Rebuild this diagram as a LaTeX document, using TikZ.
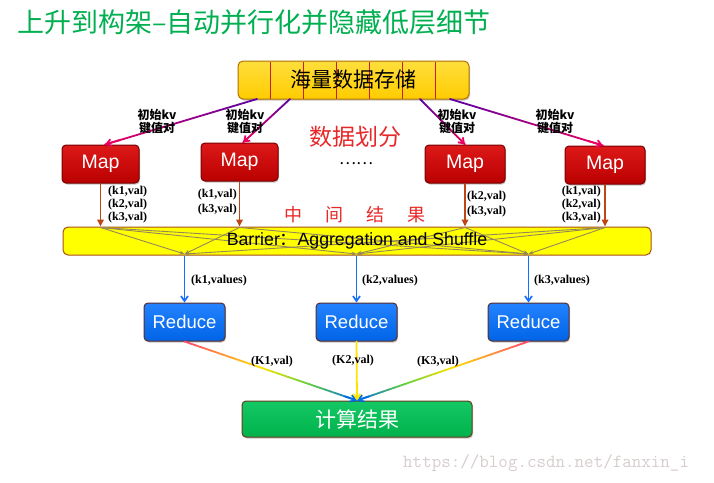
\documentclass[tikz,border=0pt]{standalone}
\usepackage{fontspec}
\newfontfamily\cjk{Noto Sans CJK SC}
\newfontfamily\lsans{Liberation Sans}
\newfontfamily\lserif{Liberation Serif}
\usetikzlibrary{arrows.meta,calc,shadows}
\definecolor{titlegreen}{RGB}{0,176,80}
\definecolor{storefill}{RGB}{255,204,0}
\definecolor{storetop}{RGB}{255,222,60}
\definecolor{storeborder}{RGB}{175,115,0}
\definecolor{cellred}{RGB}{205,30,30}
\definecolor{maptop}{RGB}{222,25,25}
\definecolor{mapbot}{RGB}{185,0,0}
\definecolor{mapborder}{RGB}{120,0,0}
\definecolor{redtop}{RGB}{35,130,255}
\definecolor{redbot}{RGB}{0,100,230}
\definecolor{redborder}{RGB}{90,45,40}
\definecolor{restop}{RGB}{20,200,100}
\definecolor{resbot}{RGB}{0,178,75}
\definecolor{resborder}{RGB}{100,60,30}
\definecolor{barfill}{RGB}{255,255,0}
\definecolor{barborder}{RGB}{165,80,20}
\definecolor{brownarrow}{RGB}{190,70,20}
\definecolor{bluearrow}{RGB}{20,110,255}
\definecolor{shuffleline}{RGB}{150,135,90}
\definecolor{redtext}{RGB}{232,40,40}
\definecolor{wmark}{RGB}{215,205,205}
\definecolor{gpurple}{RGB}{90,0,165}
\definecolor{gcrimson}{RGB}{235,0,95}
\definecolor{gpink}{RGB}{255,70,110}
\definecolor{gyellow}{RGB}{255,228,0}
\definecolor{ggreen}{RGB}{100,210,60}
\definecolor{gblue}{RGB}{0,110,230}
% gradient segment: A B t0 t1 colour0 colour1 N
\newcommand\grseg[7]{%
  \foreach \gi in {1,...,#7}{%
    \pgfmathsetmacro\ga{#3+(#4-#3)*(\gi-1)/#7}%
    \pgfmathsetmacro\gb{#3+(#4-#3)*\gi/#7}%
    \pgfmathtruncatemacro\gp{100*(\gi-0.5)/#7}%
    \draw[gline, color=#6!\gp!#5] ($(#1)!\ga!(#2)$) -- ($(#1)!\gb!(#2)$);
  }}
\begin{document}
\begin{tikzpicture}[x=1pt,y=-1pt,
  gline/.style={line width=1.8pt, line cap=round},
  box/.style={rounded corners=4pt, line width=1pt, inner sep=0pt, text=white,
    drop shadow={shadow xshift=1pt,shadow yshift=-1.5pt,opacity=0.45}},
  mapbox/.style={box, draw=mapborder, top color=maptop, bottom color=mapbot,
    minimum height=38pt, font=\lsans\fontsize{19.5}{19.5}\selectfont},
  redbox/.style={box, draw=redborder, top color=redtop, bottom color=redbot,
    minimum width=81pt, minimum height=38pt, font=\lsans\fontsize{18.5}{18.5}\selectfont},
  kvlab/.style={align=center, inner sep=0pt, font=\cjk\bfseries\fontsize{12}{13}\selectfont},
  vallab/.style={inner sep=0pt, font=\lserif\bfseries\fontsize{12}{13}\selectfont},
  brownarr/.style={draw=brownarrow, line width=1.7pt, -{Triangle[length=7pt,width=6.5pt]}},
  bluearr/.style={draw=bluearrow, line width=1.7pt, -{Straight Barb[length=5pt,width=7pt]}},
  shuf/.style={draw=shuffleline, line width=0.9pt, -{Stealth[length=5pt,width=4pt]}}
]
\fill[white] (0,0) rectangle (714,482);
\useasboundingbox (0,0) rectangle (714,482);

% title
\node[anchor=west, inner sep=0pt, text=titlegreen, font=\cjk\fontsize{27}{27}\selectfont]
  (title) at (17,22) {上升到构架–自动并行化并隐藏低层细节};

% storage box
\node[box, draw=storeborder, top color=storetop, bottom color=storefill, rounded corners=5pt,
  minimum width=231pt, minimum height=38pt] (store) at (353.5,80) {};
\foreach \k in {1,...,6}
  \draw[cellred, line width=0.7pt] ($(store.north west)+(33*\k,1)$) -- ($(store.south west)+(33*\k,-1)$);
\node[inner sep=0pt, text=black, font=\cjk\fontsize{21}{21}\selectfont] (storetext) at (353.5,80) {海量数据存储};

% map boxes
\node[mapbox, minimum width=77pt] (map1) at (100.5,164) {Map};
\node[mapbox, minimum width=77pt] (map2) at (239.5,162) {Map};
\node[mapbox, minimum width=80pt] (map3) at (465,164) {Map};
\node[mapbox, minimum width=80pt] (map4) at (605,165) {Map};

% arrows storage -> maps (gradient)
\coordinate (s1) at (257,99);
\coordinate (s2) at (290,99);
\coordinate (s3) at (420,99);
\coordinate (s4) at (450,99);
\coordinate (e1) at ($(map1.north)+(4.5,0)$);
\coordinate (e2) at ($(map2.north)+(3.5,0)$);
\coordinate (e3) at ($(map3.north)+(0,0)$);
\coordinate (e4) at ($(map4.north)+(-2,0)$);
\foreach \a/\b in {s1/e1,s2/e2,s3/e3,s4/e4}{
  \grseg{\a}{\b}{0}{1}{gpurple}{gcrimson}{24}
  \draw[gline, color=gcrimson, -{Straight Barb[length=5pt,width=7pt]}] ($(\a)!0.9!(\b)$) -- (\b);
}

% kv labels
\node[kvlab] (kv1) at (157,121) {初始kv\\键值对};
\node[kvlab] (kv2) at (245,121) {初始kv\\键值对};
\node[kvlab] (kv3) at (457,121) {初始kv\\键值对};
\node[kvlab] (kv4) at (555,121) {初始kv\\键值对};

% red texts
\node[inner sep=0pt, text=redtext, font=\cjk\fontsize{23}{23}\selectfont] (split) at (355,137) {数据划分};
\node[inner sep=0pt, text=black, font=\cjk\fontsize{16}{16}\selectfont] (dots) at (356,164) {……};
\node[inner sep=0pt, text=redtext, font=\cjk\fontsize{18}{18}\selectfont] (mid) at (355,215)
  {中\hspace{23pt}间\hspace{23pt}结\hspace{23pt}果};

% barrier
\node[draw=barborder, fill=barfill, rounded corners=5pt, line width=1pt, inner sep=0pt,
  minimum width=588pt, minimum height=28pt] (barrier) at (357,241) {};

% map -> barrier
\coordinate (t1) at (map1.south |- barrier.north);
\coordinate (t2) at (map2.south |- barrier.north);
\coordinate (t3) at (map3.south |- barrier.north);
\coordinate (t4) at (map4.south |- barrier.north);
\draw[brownarr] (map1.south) -- (t1);
\draw[brownarr] (map2.south) -- (t2);
\draw[brownarr] (map3.south) -- (t3);
\draw[brownarr] (map4.south) -- (t4);

% reduce boxes
\node[redbox] (red1) at (184.5,322) {Reduce};
\node[redbox] (red2) at (356.5,322) {Reduce};
\node[redbox] (red3) at (528.5,322) {Reduce};

\coordinate (b1) at ($(red1.north |- barrier.south)+(0,-1.5)$);
\coordinate (b2) at ($(red2.north |- barrier.south)+(0,-1.5)$);
\coordinate (b3) at ($(red3.north |- barrier.south)+(0,-1.5)$);

% shuffle lines
\foreach \a/\b in {t1/b1,t1/b2,t1/b3,t2/b1,t2/b3,t3/b2,t3/b3,t4/b1,t4/b2,t4/b3}
  \draw[shuf] ($(\a)+(0,1)$) -- (\b);

\node[inner sep=0pt, text=black, font=\lsans\fontsize{17.7}{17.7}\selectfont] (bartext) at (357,241)
  {Barrier{\cjk ：}Aggregation and Shuffle};

% barrier -> reduce
\draw[bluearr] (red1.north |- barrier.south) -- (red1.north);
\draw[bluearr] (red2.north |- barrier.south) -- (red2.north);
\draw[bluearr] (red3.north |- barrier.south) -- (red3.north);
\node[vallab, anchor=west] (v1) at (191,281) {(k1,values)};
\node[vallab, anchor=west] (v2) at (362,281) {(k2,values)};
\node[vallab, anchor=west] (v3) at (534,281) {(k3,values)};

% map output labels
\node[vallab, anchor=west, align=left] (o1) at (108,205) {(k1,val)\\(k2,val)\\(k3,val)};
\node[vallab, anchor=east, align=right, font=\lserif\bfseries\fontsize{12}{15}\selectfont] (o2) at (237,202.5) {(k1,val)\\(k3,val)};
\node[vallab, anchor=west, align=left, font=\lserif\bfseries\fontsize{12}{15}\selectfont] (o3) at (467,204.5) {(k2,val)\\(k3,val)};
\node[vallab, anchor=east, align=right] (o4) at (601,205) {(k1,val)\\(k2,val)\\(k3,val)};

% result box
\node[box, draw=resborder, top color=restop, bottom color=resbot,
  minimum width=230pt, minimum height=36pt, font=\cjk\fontsize{21}{21}\selectfont] (result) at (357,419) {计算结果};

% reduce -> result (gradient)
\coordinate (rt) at (result.north);
\foreach \a in {red1,red3}{
  \grseg{\a.south}{rt}{0}{0.45}{gpink}{gyellow}{14}
  \grseg{\a.south}{rt}{0.45}{0.72}{gyellow}{ggreen}{9}
  \grseg{\a.south}{rt}{0.72}{1}{ggreen}{gblue}{9}
  \draw[gline, color=gblue, -{Straight Barb[length=5pt,width=7pt]}] ($(\a.south)!0.93!(rt)$) -- (rt);
}
\draw[gline, color=gyellow, -{Straight Barb[length=5pt,width=7pt]}] (red2.south) -- (rt);

\node[vallab] (r1) at (272,362) {(K1,val)};
\node[vallab] (r2) at (353,361) {(K2,val)};
\node[vallab] (r3) at (438,362) {(K3,val)};

% watermark
\node[anchor=west, inner sep=0pt, text=wmark, font=\ttfamily\fontsize{18.5}{18.5}\selectfont] (wm) at (403,463)
  {https://blog.csdn.net/fanxin\_i};
\end{tikzpicture}
\end{document}
